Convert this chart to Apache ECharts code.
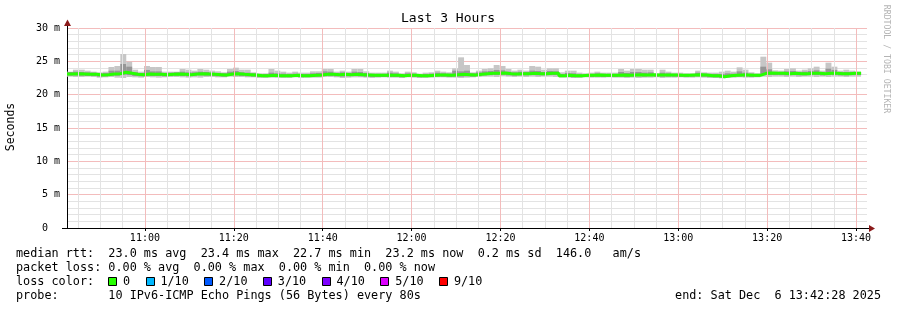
<!DOCTYPE html>
<html><head><meta charset="utf-8">
<script src="https://cdn.jsdelivr.net/npm/echarts@6/dist/echarts.min.js"></script>
<style>html,body{margin:0;padding:0;background:#fff}#c{width:897px;height:310px}</style>
</head><body><div id="c"></div>
<script>
// ---------------- data ----------------
const chartTitle = 'Last 3 Hours';
const startTime = '10:42:28';
const endTime = '13:42:28';
const stepSeconds = 80;
const xTickLabels = ['11:00','11:20','11:40','12:00','12:20','12:40','13:00','13:20','13:40'];
const yTickValues = [0,5,10,15,20,25,30];

const medianRtt = [
23.1,23.15,23.1,23.05,23.05,22.95,23.0,23.1,23.15,23.35,23.2,23.05,23.0,23.1,23.05,23.05,23.0,23.05,23.1,23.05,23.0,23.1,23.15,23.1,23.05,23.0,22.95,
23.1,23.15,23.05,23.0,22.95,22.85,22.85,22.9,22.85,22.85,22.85,22.9,22.85,22.85,22.9,22.95,23.05,23.05,23.0,23.05,23.0,23.05,23.0,22.95,22.9,22.9,22.9,
22.9,22.9,22.85,22.9,22.9,22.85,22.85,22.9,22.95,22.95,22.9,23.0,23.05,23.0,22.95,23.05,23.15,23.2,23.2,23.25,23.15,23.1,23.15,23.15,23.2,23.15,23.15,
23.2,23.2,22.85,22.9,22.85,22.85,22.9,22.9,22.95,22.9,22.9,22.9,22.95,22.9,22.95,23.0,22.95,23.0,22.95,22.95,22.95,22.95,22.9,22.9,22.95,23.0,22.95,
22.85,22.85,22.7,22.85,22.9,22.95,22.95,22.9,22.9,23.2,23.25,23.2,23.2,23.15,23.2,23.15,23.15,23.2,23.2,23.15,23.2,23.2,23.15,23.15,23.2,23.2
];
const smokeMin = [
22.7,22.65,22.65,22.7,22.65,22.55,22.6,22.65,22.55,22.5,22.65,22.6,22.55,22.65,22.6,22.55,22.6,22.65,22.65,22.6,22.55,22.6,22.55,22.65,22.65,22.6,22.6,
22.7,22.65,22.65,22.6,22.6,22.55,22.55,22.55,22.6,22.55,22.55,22.6,22.55,22.6,22.55,22.55,22.65,22.65,22.6,22.5,22.55,22.6,22.6,22.55,22.5,22.55,22.6,
22.55,22.55,22.5,22.6,22.55,22.5,22.55,22.55,22.6,22.6,22.55,22.55,22.5,22.55,22.6,22.65,22.7,22.7,22.65,22.75,22.7,22.65,22.7,22.65,22.7,22.65,22.7,
22.7,22.65,22.55,22.55,22.5,22.55,22.6,22.55,22.55,22.55,22.6,22.55,22.55,22.5,22.55,22.5,22.55,22.55,22.6,22.5,22.55,22.55,22.6,22.55,22.55,22.6,22.55,
22.55,22.5,22.45,22.55,22.55,22.6,22.55,22.55,22.6,22.7,22.65,22.7,22.7,22.65,22.7,22.65,22.7,22.7,22.65,22.7,22.65,22.7,22.7,22.65,22.7,22.7
];
const smokeLow = [
22.85,22.9,22.85,22.8,22.8,22.7,22.75,22.85,22.85,23.0,22.95,22.8,22.75,22.85,22.8,22.8,22.75,22.8,22.85,22.8,22.75,22.85,22.9,22.85,22.8,22.75,22.7,
22.85,22.9,22.8,22.75,22.7,22.6,22.6,22.65,22.6,22.6,22.6,22.65,22.6,22.6,22.65,22.7,22.8,22.8,22.75,22.7,22.75,22.8,22.75,22.7,22.65,22.65,22.65,
22.65,22.65,22.6,22.65,22.65,22.6,22.6,22.65,22.7,22.7,22.65,22.7,22.7,22.75,22.7,22.8,22.9,22.95,22.95,23.0,22.9,22.85,22.9,22.9,22.95,22.9,22.9,
22.95,22.95,22.65,22.65,22.6,22.6,22.65,22.65,22.7,22.65,22.65,22.65,22.7,22.65,22.7,22.75,22.7,22.75,22.7,22.7,22.7,22.7,22.65,22.65,22.7,22.75,22.7,
22.6,22.6,22.55,22.6,22.65,22.7,22.7,22.65,22.65,22.95,22.95,22.95,22.95,22.9,22.95,22.9,22.9,22.95,22.95,22.9,22.95,22.95,22.9,22.9,22.95,22.95
];
const smokeHigh = [
23.4,23.45,23.4,23.35,23.3,23.2,23.25,23.6,23.6,24.6,24.2,23.35,23.25,23.7,23.5,23.5,23.25,23.3,23.35,23.45,23.35,23.35,23.45,23.4,23.3,23.25,23.2,
23.45,23.55,23.35,23.3,23.2,23.1,23.1,23.3,23.2,23.15,23.1,23.15,23.1,23.1,23.2,23.25,23.5,23.45,23.25,23.35,23.25,23.45,23.4,23.25,23.1,23.1,23.1,
23.3,23.2,23.05,23.2,23.15,23.0,23.1,23.15,23.3,23.2,23.15,23.6,23.5,23.6,23.2,23.35,23.5,23.55,23.7,23.65,23.45,23.35,23.45,23.4,23.6,23.55,23.4,
23.55,23.5,23.1,23.25,23.2,23.05,23.05,23.1,23.2,23.1,23.1,23.1,23.4,23.25,23.4,23.4,23.3,23.35,23.05,23.3,23.2,23.1,23.1,23.05,23.05,23.3,23.15,
23.1,23.1,23.1,23.2,23.15,23.5,23.3,23.15,23.05,24.2,23.8,23.4,23.4,23.5,23.55,23.4,23.45,23.55,23.65,23.35,23.9,23.7,23.35,23.4,23.4,23.35
];
const smokeMax = [
23.45,23.75,23.75,23.6,23.45,23.35,23.45,24.15,24.3,26.1,24.95,23.75,23.45,24.3,24.15,24.15,23.45,23.45,23.45,23.85,23.75,23.6,23.85,23.75,23.6,23.5,23.35,
23.85,24.05,23.75,23.75,23.35,23.2,23.2,23.85,23.6,23.45,23.3,23.45,23.3,23.3,23.5,23.5,23.85,23.85,23.45,23.6,23.45,23.85,23.85,23.5,23.3,23.3,23.3,
23.6,23.45,23.2,23.45,23.35,23.15,23.3,23.35,23.6,23.45,23.35,23.95,25.6,24.45,23.35,23.6,23.85,23.95,24.45,24.3,23.85,23.6,23.75,23.6,24.3,24.2,23.75,
23.95,23.95,23.35,23.6,23.6,23.3,23.2,23.3,23.45,23.3,23.3,23.3,23.85,23.6,23.85,23.85,23.75,23.75,23.2,23.75,23.45,23.3,23.3,23.2,23.2,23.6,23.35,
23.3,23.3,23.45,23.6,23.45,24.1,23.75,23.35,23.2,25.7,24.8,23.65,23.6,23.85,23.95,23.6,23.75,23.95,24.2,23.6,24.8,24.2,23.6,23.75,23.6,23.45
];

const statLines = [
  'median rtt:  23.0 ms avg  23.4 ms max  22.7 ms min  23.2 ms now  0.2 ms sd  146.0   am/s',
  'packet loss: 0.00 % avg  0.00 % max  0.00 % min  0.00 % now'
];
const lossLabel = 'loss color:';
const lossNames = ['0','1/10','2/10','3/10','4/10','5/10','9/10'];
const lossColors = ['#26ff00','#00b8ff','#0059ff','#5e00ff','#7e00ff','#dd00ff','#ff0000'];
const probeLine = 'probe:       10 IPv6-ICMP Echo Pings (56 Bytes) every 80s';
const endLine = 'end: Sat Dec  6 13:42:28 2025';
const yAxisName = 'Seconds';
const watermark = 'RRDTOOL / TOBI OETIKER';

// ---------------- build ----------------
const hms = s => s.split(':').reduce((a, b) => a * 60 + (+b), 0);
const tStart = hms(startTime), tEnd = hms(endTime);
const majorTicks = xTickLabels.map(l => hms(l + ':00'));
const gridTimes = [];
for (let t = Math.ceil(tStart / 300) * 300; t < tEnd; t += 300) gridTimes.push(t);

const smokeData = medianRtt.map((m, i) => {
  const t = tStart + i * stepSeconds;
  return [t, t + stepSeconds, smokeMin[i], smokeLow[i], smokeHigh[i], smokeMax[i]];
});
const medianData = medianRtt.map((m, i) => [tStart + i * stepSeconds, m]);
medianData.push([tStart + medianRtt.length * stepSeconds, medianRtt[medianRtt.length - 1]]);

const MONO = 'DejaVu Sans Mono';
const G = {left: 67, top: 28, width: 800, height: 200};
const charW = 7.1;
const legendFont = '11.8px "' + MONO + '"';
const MINOR = '#e3e3e3', MAJOR = '#f3bcbc';

const graphics = [];
const txt = (text, x, y, extra) => graphics.push(Object.assign({
  type: 'text', x: x, y: y, silent: true,
  style: Object.assign({text: text, font: legendFont, fill: '#000', verticalAlign: 'middle', align: 'left'}, (extra || {}).style || {})
}, extra ? {rotation: extra.rotation || 0} : {}));

txt(chartTitle, 448, 19, {style: {align: 'center', font: '13px "' + MONO + '"'}});
txt(yAxisName, 11, 127, {rotation: Math.PI / 2, style: {align: 'center', font: '11.5px "' + MONO + '"'}});
txt(watermark, 886, 59, {rotation: -Math.PI / 2, style: {align: 'center', font: '8.2px "' + MONO + '"', fill: '#b4b4b4'}});
txt(statLines[0], 16, 254);
txt(statLines[1], 16, 268);
txt(lossLabel, 16, 282);
let bx = 16 + 13 * charW;
lossNames.forEach((n, i) => {
  graphics.push({type: 'rect', silent: true, shape: {x: Math.round(bx) + 0.5, y: 277.5, width: 8, height: 8},
    style: {fill: lossColors[i], stroke: '#000', lineWidth: 1}});
  const tx = bx + 14.7;
  txt(n, tx, 282);
  bx = tx + n.length * charW + 15.6;
});
txt(probeLine, 16, 296);
txt(endLine, 881, 296, {style: {align: 'right'}});

// axis extensions and arrows
const ax = G.left + 0.5, ay = G.top + G.height + 0.5;
graphics.push({type: 'line', silent: true, shape: {x1: G.left + G.width, y1: ay, x2: G.left + G.width + 4, y2: ay}, style: {stroke: '#000', lineWidth: 1}});
graphics.push({type: 'polygon', silent: true, shape: {points: [[869, 225], [875, 228.5], [869, 232]]}, style: {fill: '#8b1a1a'}});
graphics.push({type: 'line', silent: true, shape: {x1: ax, y1: G.top, x2: ax, y2: G.top - 4}, style: {stroke: '#000', lineWidth: 1}});
graphics.push({type: 'polygon', silent: true, shape: {points: [[ax - 3.5, 26], [ax, 19.5], [ax + 3.5, 26]]}, style: {fill: '#8b1a1a'}});
graphics.push({type: 'line', silent: true, shape: {x1: 62, y1: ay, x2: G.left, y2: ay}, style: {stroke: '#000', lineWidth: 1}});

const chart = echarts.init(document.getElementById('c'), null, {renderer: 'canvas'});
chart.setOption({
  animation: false,
  backgroundColor: '#fff',
  grid: G,
  xAxis: {
    type: 'value', min: tStart, max: tEnd,
    axisLine: {show: true, lineStyle: {color: '#000', width: 1}},
    axisTick: {show: true, customValues: majorTicks, length: 3, lineStyle: {color: '#000'}},
    axisLabel: {customValues: majorTicks, margin: 5, color: '#000', fontFamily: MONO, fontSize: 10,
      formatter: v => xTickLabels[majorTicks.indexOf(v)] || ''},
    splitLine: {show: false},
    minorSplitLine: {show: false}
  },
  yAxis: {
    type: 'value', min: 0, max: 30, interval: 5,
    axisLine: {show: true, lineStyle: {color: '#000', width: 1}},
    axisTick: {show: false},
    axisLabel: {margin: 7, color: '#000', fontFamily: MONO, fontSize: 10,
      formatter: v => yTickValues.indexOf(v) === 0 ? '0  ' : v + ' m'},
    splitLine: {show: true, lineStyle: {color: MAJOR, type: 'solid', width: 1}},
    minorTick: {show: false, splitNumber: 5},
    minorSplitLine: {show: true, lineStyle: {color: MINOR, type: 'solid', width: 1}}
  },
  series: [
    {
      type: 'line', name: 'vgrid', z: 1, silent: true, data: [],
      markLine: {
        silent: true, symbol: ['none', 'none'], label: {show: false}, animation: false,
        emphasis: {disabled: true},
        data: gridTimes.map(t => ({xAxis: t, lineStyle: {color: t % 1200 === 0 ? MAJOR : MINOR, type: 'solid', width: 1}}))
      }
    },
    {
      type: 'custom', name: 'smoke', z: 2, silent: true,
      data: smokeData,
      encode: {x: [0, 1], y: [2, 3, 4, 5]},
      renderItem: (p, api) => {
        const t0 = api.value(0), t1 = api.value(1);
        const lo = api.coord([t0, api.value(2)]), hi = api.coord([t1, api.value(5)]);
        const q1 = api.coord([t0, api.value(3)]), q3 = api.coord([t1, api.value(4)]);
        return {type: 'group', children: [
          {type: 'rect', shape: {x: lo[0], y: hi[1], width: hi[0] - lo[0], height: lo[1] - hi[1]}, style: {fill: '#c6c6c6'}},
          {type: 'rect', shape: {x: q1[0], y: q3[1], width: q3[0] - q1[0], height: q1[1] - q3[1]}, style: {fill: '#969696'}}
        ]};
      }
    },
    {
      type: 'line', name: 'median', z: 3, silent: true, step: 'end', showSymbol: false, symbol: 'none',
      data: medianData,
      lineStyle: {color: lossColors[0], width: 3}
    }
  ],
  graphic: graphics
});
</script></body></html>
